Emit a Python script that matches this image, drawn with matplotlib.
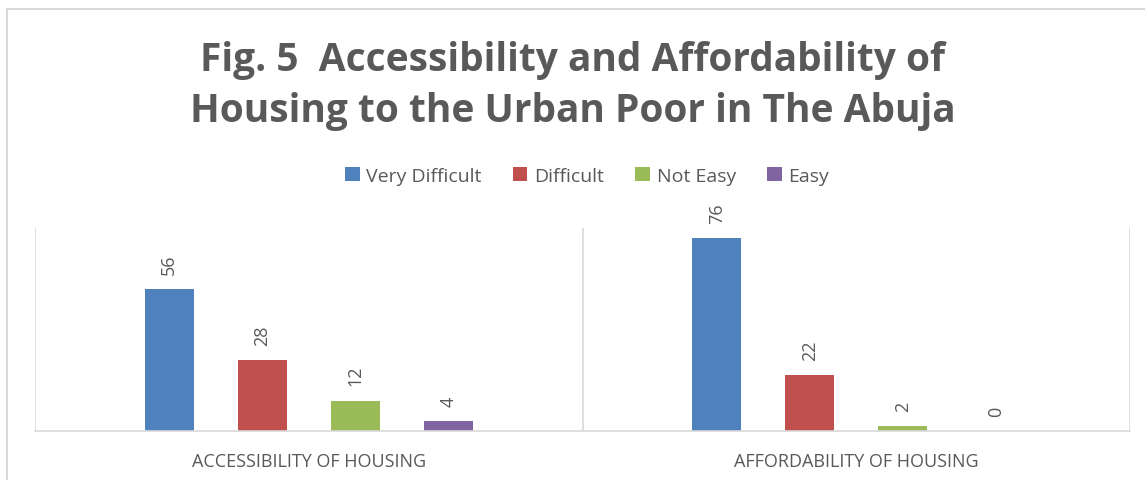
import matplotlib.pyplot as plt
from matplotlib.patches import Rectangle
import numpy as np

categories = ["ACCESSIBILITY OF HOUSING", "AFFORDABILITY OF HOUSING"]
series = ["Very Difficult", "Difficult", "Not Easy", "Easy"]
values = {
    "Very Difficult": [56, 76],
    "Difficult": [28, 22],
    "Not Easy": [12, 2],
    "Easy": [4, 0],
}
colors = ["#4F81BD", "#C0504D", "#9BBB59", "#8064A2"]
title = "Fig. 5  Accessibility and Affordability of\nHousing to the Urban Poor in The Abuja"

text_col = "#595959"
line_col = "#D9D9D9"
plt.rcParams['font.family'] = ['Open Sans', 'DejaVu Sans']

fig = plt.figure(figsize=(11.45, 4.81), dpi=100)
W, H = 1145, 481
# bord de la zone du graphique (coupé à droite et en bas dans l'original)
fig.patches.append(Rectangle((7 / W, -0.1), 1.2, 1.1 - 10 / H, transform=fig.transFigure,
                             fill=False, edgecolor=line_col, linewidth=1.5))

ax = fig.add_axes([35 / W, 1 - 432 / H, (1130 - 35) / W, (432 - 229) / H])
x = np.arange(len(categories))
width = 0.09
step = 0.17
for i, (name, col) in enumerate(zip(series, colors)):
    pos = x + (i - 1.5) * step
    bars = ax.bar(pos, values[name], width, color=col, label=name)
    for b, v in zip(bars, values[name]):
        ax.annotate(str(v), (b.get_x() + b.get_width() / 2, v), xytext=(0, 11),
                    textcoords="offset points", rotation=90, ha="center", va="bottom",
                    fontsize=13, color=text_col)

ax.set_xlim(-0.5, 1.5)
ax.set_ylim(0, 80)
for s in ["top", "right", "left"]:
    ax.spines[s].set_visible(False)
ax.spines["bottom"].set_color(line_col)
ax.spines["bottom"].set_linewidth(1.2)
for xv in [-0.5, 0.5, 1.5]:
    ax.axvline(xv, color=line_col, linewidth=1.2)
ax.set_yticks([])
ax.set_xticks(x)
ax.set_xticklabels(categories, fontsize=13, color=text_col)
ax.tick_params(axis="x", length=0, pad=15)

fig.text(0.5, 1 - 86 / H, title, ha="center", va="center", fontsize=28,
         fontweight="bold", color=text_col, linespacing=1.4)
fig.legend(loc="center", bbox_to_anchor=(587 / W, 1 - 177 / H), ncol=4, frameon=False,
           fontsize=14, labelcolor=text_col, handlelength=0.75, handleheight=0.75,
           handletextpad=0.35, columnspacing=1.6)

fig.savefig("out.png", dpi=100, facecolor="white")
